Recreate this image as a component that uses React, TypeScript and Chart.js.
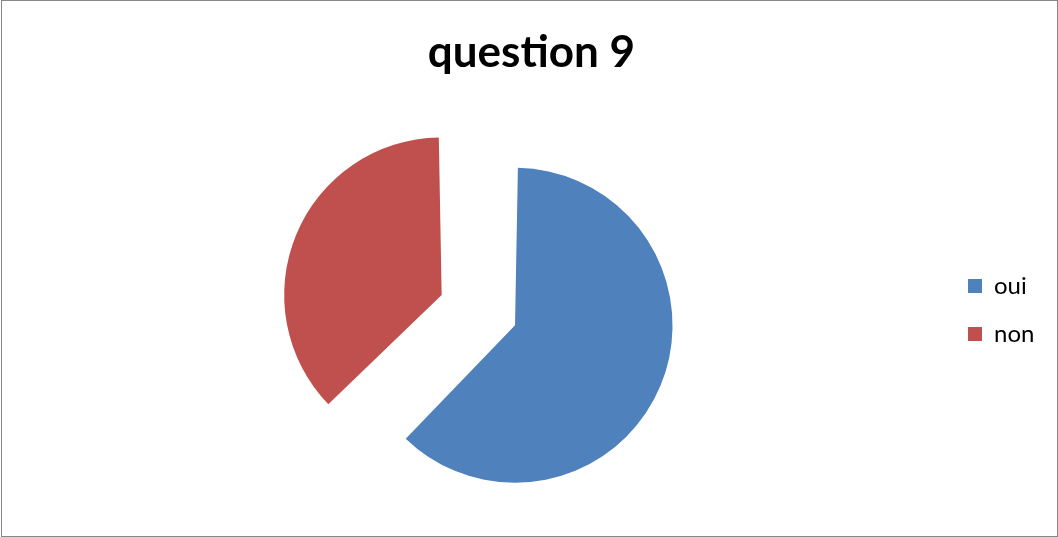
import React, { useEffect, useRef } from "react";
import { Chart, registerables } from "chart.js";

Chart.register(...registerables);

const titleText = "question 9";
const categories = ["oui", "non"];
const answerCounts = [5, 3];
const sliceColors = ["#4F81BD", "#C0504D"];
const sliceOffsets = [72, 245.6];

function buildLegendItems() {
  const items: any[] = [];
  categories.forEach((label, i) => {
    if (i > 0) {
      items.push({
        text: "",
        fillStyle: "rgba(0,0,0,0)",
        strokeStyle: "rgba(0,0,0,0)",
        lineWidth: 0,
        hidden: false,
        index: -1,
      });
    }
    items.push({
      text: label,
      fillStyle: sliceColors[i],
      strokeStyle: sliceColors[i],
      fontColor: "#000000",
      lineWidth: 0,
      hidden: false,
      index: i,
    });
  });
  return items;
}

export default function App() {
  const canvasRef = useRef<HTMLCanvasElement | null>(null);

  useEffect(() => {
    const canvas = canvasRef.current;
    if (!canvas) return;
    const chart = new Chart(canvas, {
      type: "pie",
      data: {
        labels: categories,
        datasets: [
          {
            data: answerCounts,
            backgroundColor: sliceColors,
            borderWidth: 0,
            offset: sliceOffsets,
            hoverOffset: 0,
          },
        ],
      },
      options: {
        responsive: false,
        animation: false,
        radius: 139.5,
        layout: {
          padding: { left: 28.8, right: 24, top: 0, bottom: 1.6 },
        },
        plugins: {
          tooltip: { enabled: false },
          title: {
            display: true,
            text: titleText,
            color: "#000000",
            font: { family: "Lato", size: 44, weight: "bold", lineHeight: 1.2 },
            padding: { top: 26.6, bottom: 22 },
          },
          legend: {
            display: true,
            position: "right",
            maxWidth: 66,
            title: {
              display: true,
              text: "",
              font: { size: 1, lineHeight: 1.2 },
              padding: { top: 0, bottom: 83.4 },
            },
            labels: {
              color: "#000000",
              boxWidth: 14,
              boxHeight: 14,
              padding: 0,
              font: { family: "Lato", size: 24 },
              generateLabels: buildLegendItems,
            },
          },
        },
      },
    });
    return () => chart.destroy();
  }, []);

  return (
    <div style={{ position: "absolute", left: 0, top: 0, width: 1058, height: 537, background: "#ffffff" }}>
      <div
        style={{
          position: "absolute",
          left: 1,
          top: 0,
          width: 1057,
          height: 537,
          boxSizing: "border-box",
          border: "1px solid #878787",
        }}
      />
      <canvas ref={canvasRef} width={1058} height={537} style={{ position: "absolute", left: 0, top: 0 }} />
    </div>
  );
}
